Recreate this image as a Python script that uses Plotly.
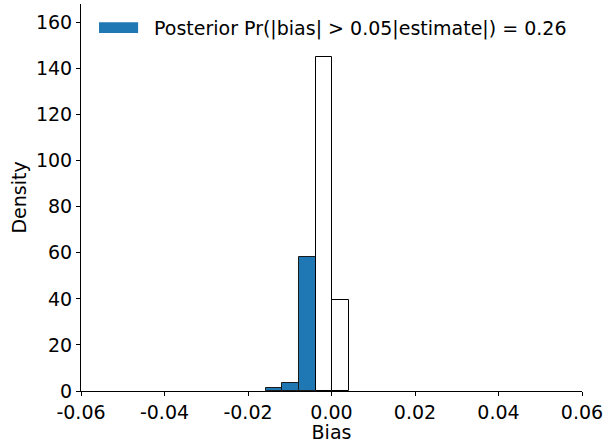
import plotly.graph_objects as go

# Histogram bins (left edges) and densities
bin_width = 0.004
blue_left = [-0.0158, -0.0118, -0.0078]
blue_density = [1.2, 3.6, 58.3]
white_left = [-0.0038, 0.0002]
white_density = [145.2, 39.6]

x_ticks = [-0.06, -0.04, -0.02, 0.0, 0.02, 0.04, 0.06]
x_ticklabels = ["-0.06", "-0.04", "-0.02", "0.00", "0.02", "0.04", "0.06"]
y_ticks = [0, 20, 40, 60, 80, 100, 120, 140, 160]

legend_label = "Posterior Pr(|bias| > 0.05|estimate|) = 0.26"

FONT = "DejaVu Sans"
FS = 19

fig = go.Figure()
fig.add_trace(go.Bar(
    x=[l + bin_width / 2 for l in blue_left], y=blue_density, width=bin_width,
    marker=dict(color="#1f77b4", line=dict(color="#1a1a1a", width=1)),
    showlegend=False,
))
fig.add_trace(go.Bar(
    x=[l + bin_width / 2 for l in white_left], y=white_density, width=bin_width,
    marker=dict(color="white", line=dict(color="black", width=1)),
    showlegend=False,
))

# legend key (patch + text)
fig.add_shape(type="rect", xref="paper", yref="paper",
              x0=0.036, x1=0.114, y0=0.925, y1=0.953,
              fillcolor="#1f77b4", line=dict(width=0))
fig.add_annotation(xref="paper", yref="paper", x=0.142, y=0.936,
                   text=legend_label, showarrow=False, xanchor="left", yanchor="middle",
                   font=dict(family=FONT, size=FS, color="black"))

fig.update_layout(
    width=616, height=443,
    margin=dict(l=81, r=34, t=4, b=52),
    plot_bgcolor="white", paper_bgcolor="white",
    font=dict(family=FONT, size=FS, color="black"),
    bargap=0,
    xaxis=dict(range=[-0.06, 0.06], tickvals=x_ticks, ticktext=x_ticklabels,
               showgrid=False, zeroline=False, showline=True, linecolor="black", linewidth=1,
               ticks="outside", ticklen=4, tickcolor="black",
               tickfont=dict(size=FS),
               title=dict(text="Bias", standoff=2, font=dict(size=FS))),
    yaxis=dict(range=[0, 168], tickvals=y_ticks,
               showgrid=False, zeroline=False, showline=True, linecolor="black", linewidth=1,
               ticks="outside", ticklen=4, tickcolor="black",
               tickfont=dict(size=FS),
               title=dict(text="Density", standoff=4, font=dict(size=FS))),
)

fig.write_html("out.html")
